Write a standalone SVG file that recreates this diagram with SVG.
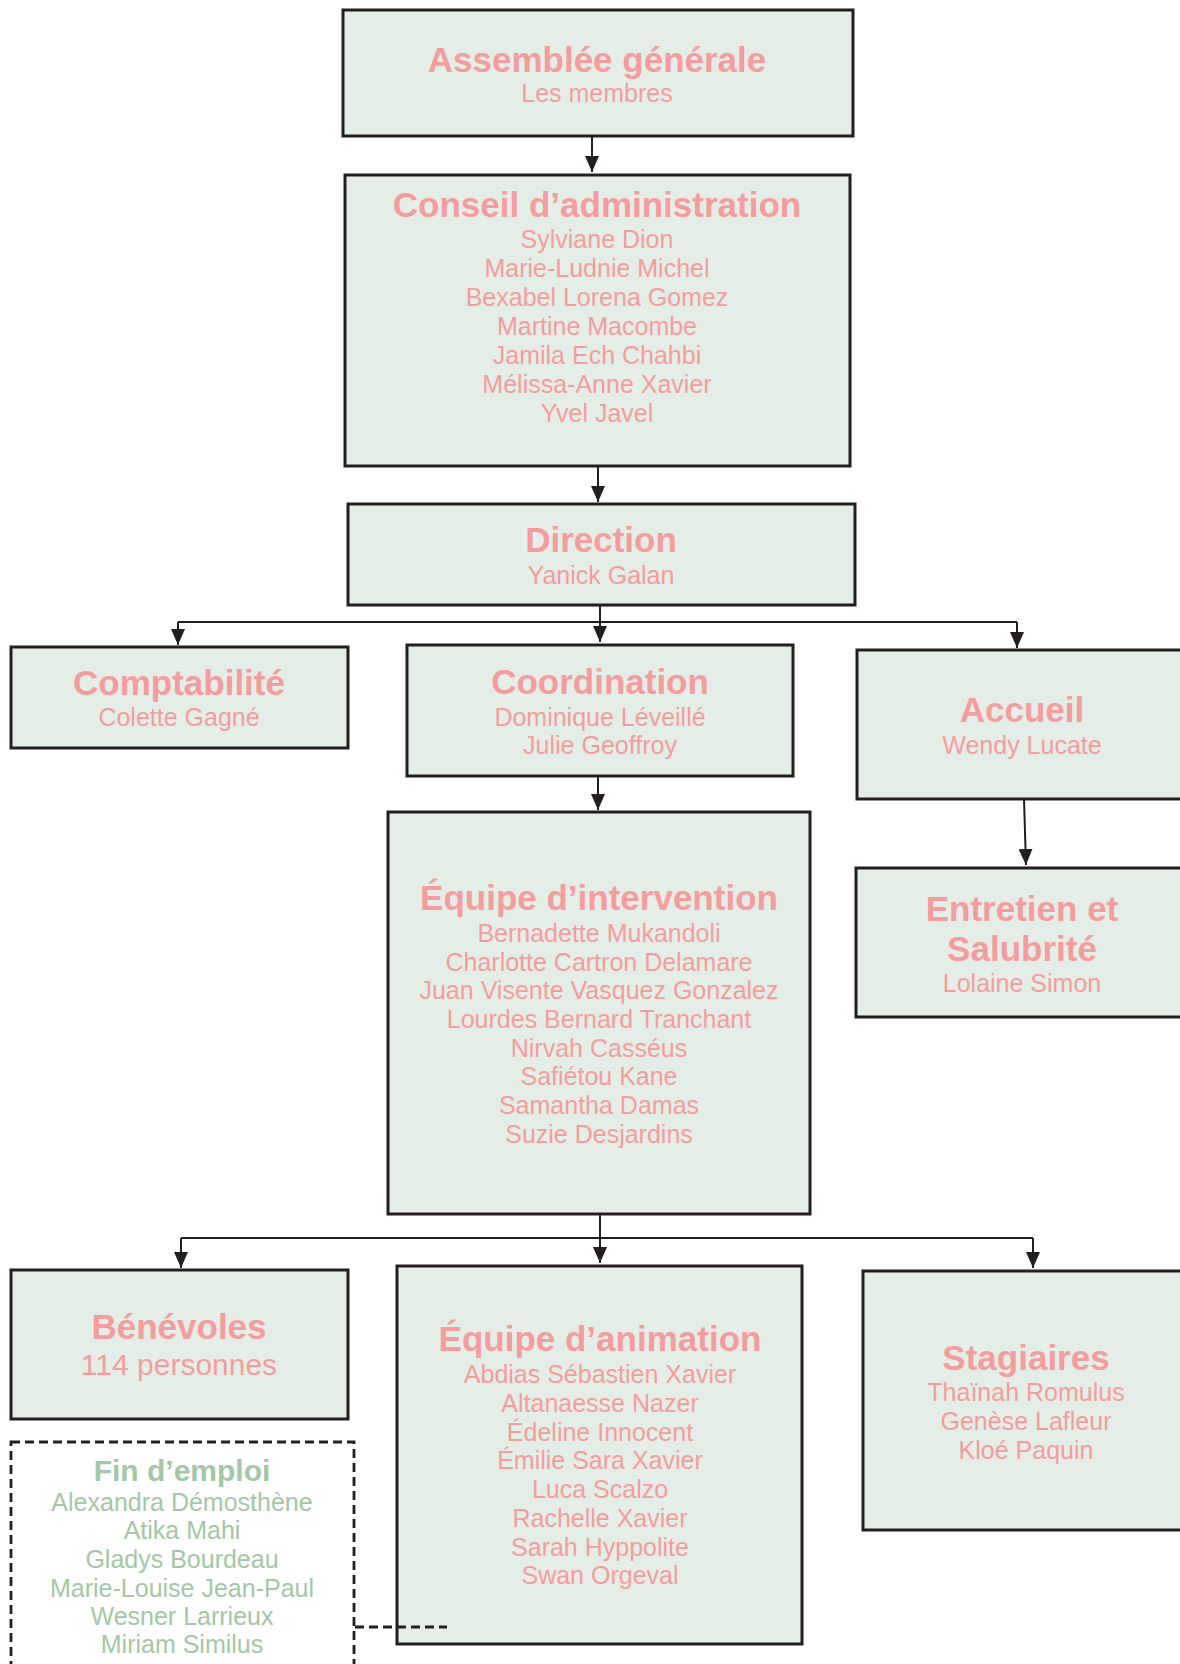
<svg xmlns="http://www.w3.org/2000/svg" width="1180" height="1664" viewBox="0 0 1180 1664">
<style>
.box{fill:#E4EEE6;stroke:#231F20;stroke-width:3}
.dash{fill:none;stroke:#231F20;stroke-width:2.8;stroke-dasharray:9 5}
.t{font-family:"Liberation Sans",Arial,sans-serif;font-weight:bold;font-size:35px;fill:#F49C9E;text-anchor:middle}
.n{font-family:"Liberation Sans",Arial,sans-serif;font-size:25px;fill:#F49C9E;text-anchor:middle}
.gt{font-family:"Liberation Sans",Arial,sans-serif;font-weight:bold;font-size:30px;fill:#A3C7A6;text-anchor:middle}
.gn{font-family:"Liberation Sans",Arial,sans-serif;font-size:25px;fill:#A3C7A6;text-anchor:middle}
.c{fill:none;stroke:#231F20;stroke-width:2}
</style>
<defs>
<marker id="ah" viewBox="0 0 16 14" refX="16" refY="7" markerWidth="16" markerHeight="14" markerUnits="userSpaceOnUse" orient="auto">
<path d="M0,0 L16,7 L0,14 z" fill="#231F20"/>
</marker>
</defs>
<rect width="1180" height="1664" fill="#FFFFFF"/>

<g id="assemblee">
<rect class="box" x="343" y="10" width="510" height="126"/>
<text class="t" x="597" y="72">Assemblée générale</text>
<text class="n" x="597" y="102">Les membres</text>
</g>

<g id="conseil">
<rect class="box" x="345" y="175" width="505" height="291"/>
<text class="t" x="597" y="217">Conseil d’administration</text>
<text class="n" x="597" y="248">Sylviane Dion</text>
<text class="n" x="597" y="277">Marie-Ludnie Michel</text>
<text class="n" x="597" y="306">Bexabel Lorena Gomez</text>
<text class="n" x="597" y="335">Martine Macombe</text>
<text class="n" x="597" y="364">Jamila Ech Chahbi</text>
<text class="n" x="597" y="393">Mélissa-Anne Xavier</text>
<text class="n" x="597" y="422">Yvel Javel</text>
</g>

<g id="direction">
<rect class="box" x="348" y="504" width="507" height="101"/>
<text class="t" x="601" y="552">Direction</text>
<text class="n" x="601" y="584">Yanick Galan</text>
</g>

<g id="comptabilite">
<rect class="box" x="11" y="647" width="337" height="101"/>
<text class="t" x="179" y="695">Comptabilité</text>
<text class="n" x="179" y="726">Colette Gagné</text>
</g>

<g id="coordination">
<rect class="box" x="407" y="645" width="386" height="131"/>
<text class="t" x="600" y="694">Coordination</text>
<text class="n" x="600" y="726">Dominique Léveillé</text>
<text class="n" x="600" y="754">Julie Geoffroy</text>
</g>

<g id="accueil">
<rect class="box" x="857" y="650" width="330" height="149"/>
<text class="t" x="1022" y="722">Accueil</text>
<text class="n" x="1022" y="754">Wendy Lucate</text>
</g>

<g id="entretien">
<rect class="box" x="856" y="868" width="330" height="149"/>
<text class="t" x="1022" y="921">Entretien et</text>
<text class="t" x="1022" y="961">Salubrité</text>
<text class="n" x="1022" y="992">Lolaine Simon</text>
</g>

<g id="intervention">
<rect class="box" x="388" y="812" width="422" height="402"/>
<text class="t" x="599" y="910">Équipe d’intervention</text>
<text class="n" x="599" y="942">Bernadette Mukandoli</text>
<text class="n" x="599" y="971">Charlotte Cartron Delamare</text>
<text class="n" x="599" y="999">Juan Visente Vasquez Gonzalez</text>
<text class="n" x="599" y="1028">Lourdes Bernard Tranchant</text>
<text class="n" x="599" y="1057">Nirvah Casséus</text>
<text class="n" x="599" y="1085">Safiétou Kane</text>
<text class="n" x="599" y="1114">Samantha Damas</text>
<text class="n" x="599" y="1143">Suzie Desjardins</text>
</g>

<g id="benevoles">
<rect class="box" x="11" y="1270" width="337" height="149"/>
<text class="t" x="179" y="1339">Bénévoles</text>
<text class="n" x="179" y="1375" style="font-size:30px">114 personnes</text>
</g>

<g id="animation">
<rect class="box" x="397" y="1266" width="405" height="378"/>
<text class="t" x="600" y="1351">Équipe d’animation</text>
<text class="n" x="600" y="1383">Abdias Sébastien Xavier</text>
<text class="n" x="600" y="1412">Altanaesse Nazer</text>
<text class="n" x="600" y="1441">Édeline Innocent</text>
<text class="n" x="600" y="1469">Émilie Sara Xavier</text>
<text class="n" x="600" y="1498">Luca Scalzo</text>
<text class="n" x="600" y="1527">Rachelle Xavier</text>
<text class="n" x="600" y="1556">Sarah Hyppolite</text>
<text class="n" x="600" y="1584">Swan Orgeval</text>
</g>

<g id="stagiaires">
<rect class="box" x="863" y="1271" width="330" height="259"/>
<text class="t" x="1026" y="1370">Stagiaires</text>
<text class="n" x="1026" y="1401">Thaïnah Romulus</text>
<text class="n" x="1026" y="1430">Genèse Lafleur</text>
<text class="n" x="1026" y="1459">Kloé Paquin</text>
</g>

<g id="fin-emploi">
<rect class="dash" x="11" y="1442" width="343" height="240"/>
<text class="gt" x="182" y="1481">Fin d’emploi</text>
<text class="gn" x="182" y="1511">Alexandra Démosthène</text>
<text class="gn" x="182" y="1539">Atika Mahi</text>
<text class="gn" x="182" y="1568">Gladys Bourdeau</text>
<text class="gn" x="182" y="1597">Marie-Louise Jean-Paul</text>
<text class="gn" x="182" y="1625">Wesner Larrieux</text>
<text class="gn" x="182" y="1653">Miriam Similus</text>
</g>

<g id="connectors">
<path class="c" d="M592,137 V172" marker-end="url(#ah)"/>
<path class="c" d="M598,466 V502" marker-end="url(#ah)"/>
<path class="c" d="M600,605 V642" marker-end="url(#ah)"/>
<path class="c" d="M178,622 H1017"/>
<path class="c" d="M178,622 V645" marker-end="url(#ah)"/>
<path class="c" d="M1017,622 V648" marker-end="url(#ah)"/>
<path class="c" d="M598,776 V810" marker-end="url(#ah)"/>
<path class="c" d="M1024,799 L1026,865" marker-end="url(#ah)"/>
<path class="c" d="M600,1214 V1263" marker-end="url(#ah)"/>
<path class="c" d="M181,1238 H1033"/>
<path class="c" d="M181,1238 V1268" marker-end="url(#ah)"/>
<path class="c" d="M1033,1238 V1268" marker-end="url(#ah)"/>
<path class="dash" d="M355,1627 H447"/>
</g>
</svg>
